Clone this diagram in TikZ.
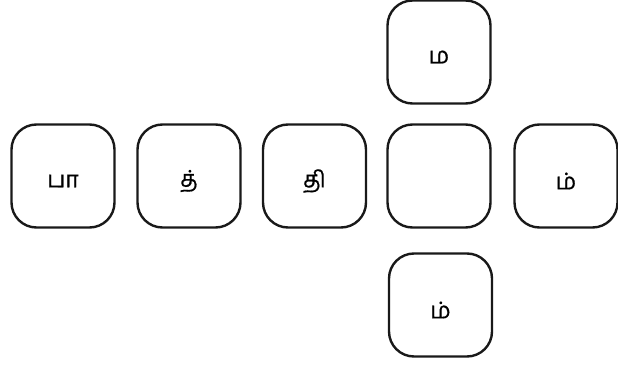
\documentclass[tikz,border=0pt]{standalone}
\usepackage{fontspec}
\newfontfamily\tamilfont[Script=Tamil,FakeBold=0.6]{Hind Madurai}
\begin{document}
\begin{tikzpicture}[x=1pt,y=-1pt,
  tile/.style={draw=black!90, line width=2.4pt, rounded corners=25pt, minimum width=103pt, minimum height=103pt, inner sep=0pt},
  lbl/.style={font=\tamilfont\fontsize{23}{26}\selectfont, yshift=-5pt}]
\useasboundingbox (0,0) rectangle (618,366);
\node[tile] (a) at (63,176) {};
\node[tile] (b) at (189,176) {};
\node[tile] (c) at (314.5,176) {};
\node[tile] (d) at (439,176) {};
\node[tile] (e) at (566,176) {};
\node[tile] (t) at (439,52) {};
\node[tile] (u) at (440.5,305) {};
\node[lbl] (la) at (a) {பா};
\node[lbl] (lb) at (b) {த்};
\node[lbl] (lc) at (c) {தி};
\node[lbl] (le) at (e) {ம்};
\node[lbl] (lt) at (t) {ம};
\node[lbl] (lu) at (u) {ம்};
\end{tikzpicture}
\end{document}
